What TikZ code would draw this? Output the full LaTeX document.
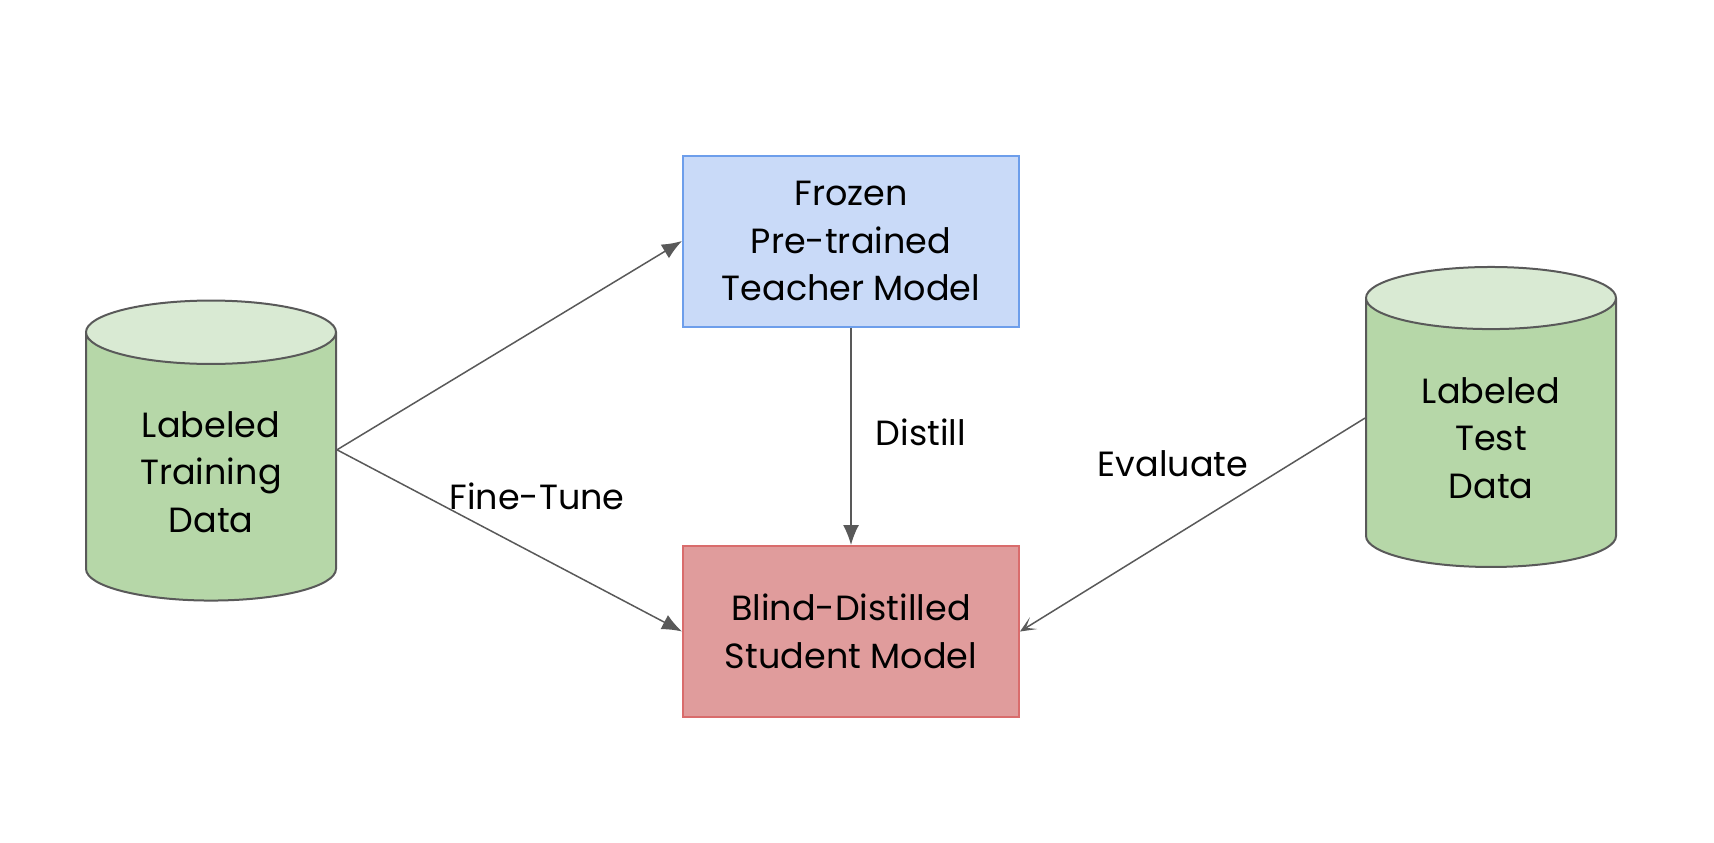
\documentclass[tikz,border=0pt]{standalone}
\usepackage{fontspec}
\setmainfont{Poppins}
\usetikzlibrary{shapes.geometric,arrows.meta}
\definecolor{edgegray}{HTML}{595959}
\definecolor{teacherfill}{HTML}{C9DAF8}
\definecolor{teacherline}{HTML}{6D9EEB}
\definecolor{studentfill}{HTML}{E09C9C}
\definecolor{studentline}{HTML}{D96C6C}
\definecolor{databody}{HTML}{B6D7A8}
\definecolor{datatop}{HTML}{D9EAD3}

\begin{document}
\begin{tikzpicture}[x=0.5pt,y=-0.5pt,
  txt/.style={font=\fontsize{17.5}{23.8}\selectfont},
  model/.style={txt,draw,line width=1pt,minimum width=168pt,minimum height=85.5pt,align=center},
  dataset/.style={txt,cylinder,shape border rotate=90,aspect=0.41,draw=edgegray,line width=1pt,
    cylinder uses custom fill,cylinder body fill=databody,cylinder end fill=datatop,
    minimum width=125pt,minimum height=150pt,align=center},
  flow/.style={draw=edgegray,line width=0.75pt,-{Latex[length=10pt,width=8pt]}},
  evalflow/.style={draw=edgegray,line width=0.75pt,-{Stealth[length=8pt,width=7pt,inset=4.5pt]}}]
\useasboundingbox (0,0) rectangle (1714,842);
\node[model,fill=teacherfill,draw=teacherline] (teacher) at (851,241) {Frozen\\Pre-trained\\Teacher Model};
\node[model,fill=studentfill,draw=studentline] (student) at (851,631.5) {Blind-Distilled\\Student Model};
\node[dataset] (train) at (211,472) {Labeled\\Training\\Data};
\node[dataset] (test) at (1491,438) {Labeled\\Test\\Data};
% edge labels
\node[txt,anchor=base] (finetune) at (537,509) {Fine-Tune};
\node[txt,anchor=base] (distill) at (921,445) {Distill};
\node[txt,anchor=base] (evaluate) at (1173,476) {Evaluate};
% connectors
\draw[flow] (train.10) -- (teacher.west);
\draw[flow] (train.10) -- (student.west);
\draw[flow] (teacher) -- (student);
\draw[evalflow] (test.171.5) -- (student.east);
\end{tikzpicture}
\end{document}
